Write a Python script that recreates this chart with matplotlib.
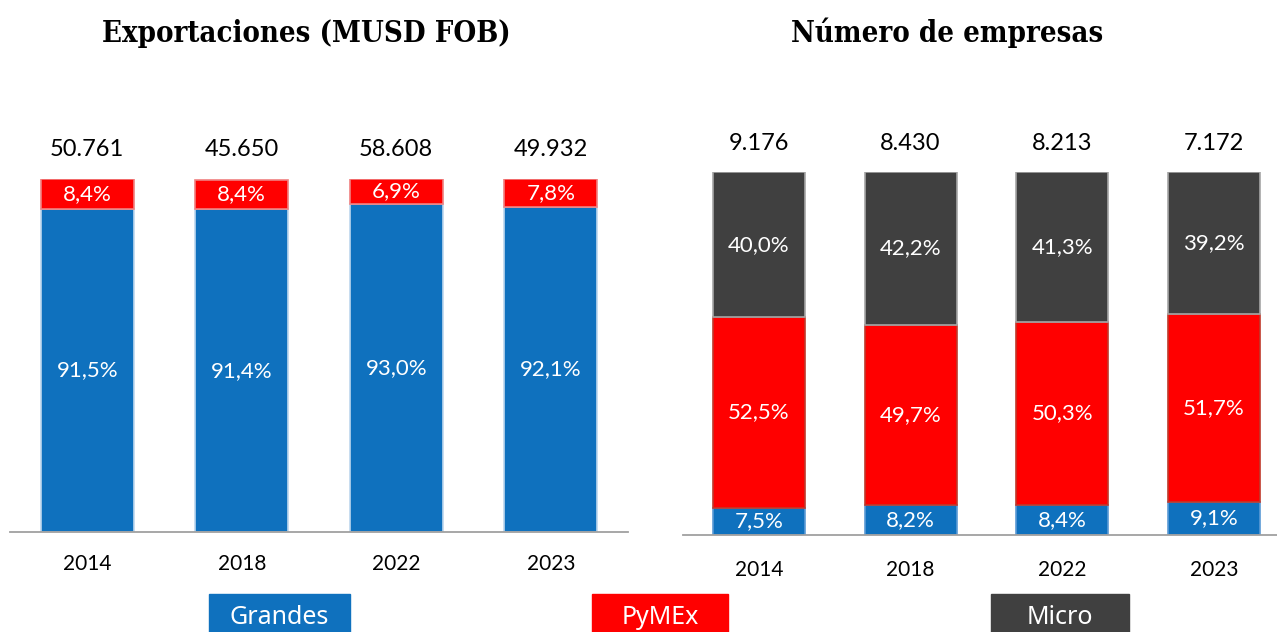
import matplotlib.pyplot as plt
from matplotlib.patches import Rectangle

# datos
years = ['2014', '2018', '2022', '2023']
exp_totals = ['50.761', '45.650', '58.608', '49.932']
exp_grandes = [91.5, 91.4, 93.0, 92.1]
exp_pymex = [8.4, 8.4, 6.9, 7.8]

emp_totals = ['9.176', '8.430', '8.213', '7.172']
emp_grandes = [7.5, 8.2, 8.4, 9.1]
emp_pymex = [52.5, 49.7, 50.3, 51.7]
emp_micro = [40.0, 42.2, 41.3, 39.2]

BLUE = '#0F71BE'
RED = '#FF0000'
GRAY = '#404040'
NUM_FONT = 'Lato'


def pct(v):
    return f'{v:.1f}'.replace('.', ',') + '%'


def stacked(ax, series, colors, edges, totals, width, tick_pad):
    x = list(range(len(years)))
    bottom = [0.0] * len(years)
    for vals, col, ed in zip(series, colors, edges):
        ax.bar(x, vals, width=width, bottom=bottom, color=col,
               edgecolor=ed, linewidth=1.2)
        for i, v in enumerate(vals):
            ax.text(i, bottom[i] + v / 2, pct(v), ha='center', va='center',
                    color='white', fontsize=16, family=NUM_FONT)
        bottom = [b + v for b, v in zip(bottom, vals)]
    for i, t in enumerate(totals):
        ax.annotate(t, (i, 100), xytext=(0, 29), textcoords='offset pixels',
                    ha='center', va='center', fontsize=17, family=NUM_FONT,
                    color='black')
    ax.set_ylim(0, 100)
    ax.set_xticks(x)
    ax.set_xticklabels(years, family=NUM_FONT, fontsize=15)
    ax.tick_params(axis='x', length=0, pad=tick_pad)
    ax.set_yticks([])
    for s in ['top', 'left', 'right']:
        ax.spines[s].set_visible(False)
    ax.spines['bottom'].set_color('#A0A0A0')
    ax.spines['bottom'].set_linewidth(1.3)
    ax.set_facecolor('none')


W, H = 1277, 632
fig = plt.figure(figsize=(W / 100, H / 100), dpi=100)

ax1 = fig.add_axes([10 / W, 100 / H, 618 / W, 353 / H])
stacked(ax1, [exp_grandes, exp_pymex], [BLUE, RED],
        ['#BDD7EE', '#F08080'], exp_totals, 0.6, 16)
ax1.set_xlim(-0.5, 3.5)

ax2 = fig.add_axes([683 / W, 97 / H, 594 / W, 363 / H])
stacked(ax2, [emp_grandes, emp_pymex, emp_micro], [BLUE, RED, GRAY],
        ['#5B9BD5', '#C0392B', '#A6A6A6'], emp_totals, 0.607, 18)
ax2.set_xlim(-0.5, 3.415)

for cx, title in [(306, 'Exportaciones (MUSD FOB)'), (947, 'Número de empresas')]:
    fig.text(cx / W, 1 - 33 / H, title, ha='center', va='center',
             fontsize=21, fontweight='bold', fontstretch='condensed',
             family='DejaVu Serif')

# leyenda en cajas
legend = [('Grandes', BLUE, 209, 141), ('PyMEx', RED, 592, 136),
          ('Micro', GRAY, 991, 138)]
for name, col, x0, w in legend:
    fig.patches.append(Rectangle((x0 / W, 0), w / W, 38 / H, color=col,
                                 transform=fig.transFigure, figure=fig))
    fig.text((x0 + w / 2) / W, 15 / H, name, ha='center', va='center',
             color='white', fontsize=18, family='Noto Sans')

fig.savefig('out.png', dpi=100)
